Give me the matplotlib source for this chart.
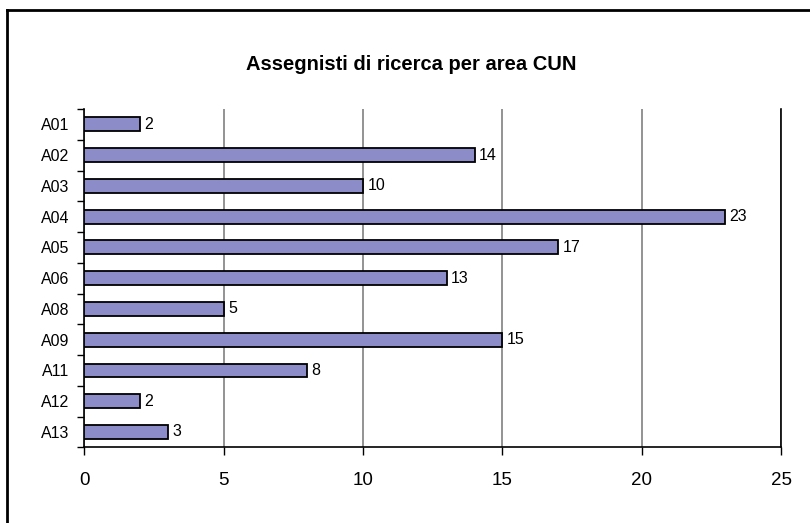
import matplotlib
matplotlib.use("Agg")
import matplotlib.pyplot as plt
from matplotlib.lines import Line2D

# Assegnisti per area CUN
areas = ["A01", "A02", "A03", "A04", "A05", "A06", "A08", "A09", "A11", "A12", "A13"]
counts = [2, 14, 10, 23, 17, 13, 5, 15, 8, 2, 3]
x_ticks = [0, 5, 10, 15, 20, 25]

plt.rcParams["font.family"] = ["Liberation Sans", "DejaVu Sans"]

fig = plt.figure(figsize=(8.10, 5.23), dpi=100)
ax = fig.add_axes([0.1043, 0.1447, 0.8599, 0.6469])

ypos = list(range(len(areas)))
ax.barh(ypos, counts, height=0.45, color="#8C8CC8", edgecolor="black", linewidth=1.3, zorder=3)
for y, v in zip(ypos, counts):
    ax.annotate(str(v), (v, y), xytext=(3, 0), textcoords="offset points",
                va="center", ha="left", fontsize=11.5, zorder=4)

ax.set_xlim(0, 25)
ax.set_ylim(len(areas) - 0.5, -0.5)
ax.set_xticks(x_ticks)
ax.set_xticklabels([str(t) for t in x_ticks], fontsize=13.5)
ax.set_yticks(ypos)
ax.set_yticklabels(areas, fontsize=11.5)
ax.set_yticks([i - 0.5 for i in range(len(areas) + 1)], minor=True)
ax.tick_params(axis="y", which="major", length=0, pad=11)
ax.tick_params(axis="y", which="minor", length=5, width=1, direction="out")
ax.tick_params(axis="x", length=6, width=1, direction="out", pad=12)

ax.grid(axis="x", color="#808080", linewidth=1.2, zorder=0)
ax.spines["top"].set_visible(False)
for side in ("left", "bottom", "right"):
    ax.spines[side].set_linewidth(1.2)
    ax.spines[side].set_color("black")

fig.text(411 / 810, 1 - 65 / 523, "Assegnisti di ricerca per area CUN",
         ha="center", va="center", fontsize=14.5, fontweight="bold")

# frame around the chart area
fig.add_artist(Line2D([7 / 810, 7 / 810], [0, 1 - 10 / 523], color="black", linewidth=2,
                      transform=fig.transFigure))
fig.add_artist(Line2D([7 / 810, 1], [1 - 10 / 523, 1 - 10 / 523], color="black", linewidth=2,
                      transform=fig.transFigure))

fig.savefig("out.png", dpi=100)
